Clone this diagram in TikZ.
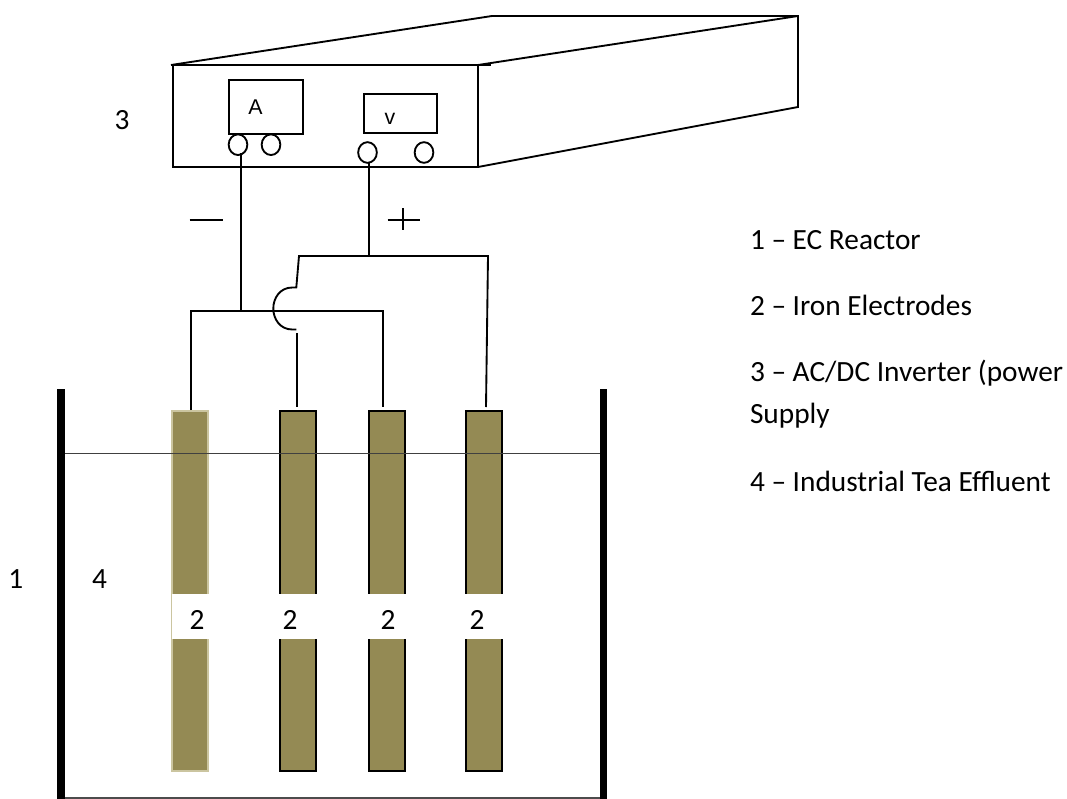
\documentclass[tikz,border=0pt]{standalone}
\usepackage{fontspec}
\usetikzlibrary{shapes.geometric}
\setmainfont{Carlito}
\newfontfamily\lblsans{Liberation Sans}
\definecolor{elec}{HTML}{948A54}
\definecolor{elecedge}{HTML}{CBC5A0}
\begin{document}
\begin{tikzpicture}[x=0.75pt,y=-0.75pt,
  every node/.style={inner sep=0pt,outer sep=0pt},
  ln/.style={line width=1.4pt,black},
  wire/.style={line width=1.4pt,black},
  electrode/.style={draw=black,line width=1.4pt,fill=elec,minimum width=27pt,minimum height=270pt,anchor=north west},
  lightelectrode/.style={electrode,draw=elecedge},
  patch/.style={fill=white,minimum width=29.6pt,minimum height=33.75pt,anchor=north west},
  txt/.style={font=\fontsize{22pt}{26pt}\selectfont,anchor=base west},
  meterbox/.style={draw=black,line width=1.4pt,anchor=north west},
  meter/.style={font=\lblsans\fontsize{16pt}{18pt}\selectfont,anchor=base},
  terminal/.style={draw=black,line width=1.4pt,ellipse,minimum width=14pt,minimum height=15.5pt},
  wall/.style={fill=black,draw=none}]
\useasboundingbox (0,0) rectangle (1067,799);
\fill[white] (0,0) rectangle (1067,799);
% power supply
\draw[ln] (173,65) rectangle (478,167);
\draw[ln] (171,65) -- (492,16) -- (798,16) -- (798,107) -- (478,167);
\draw[ln] (478,65) -- (798,16);
\draw[ln] (478,65) -- (491,65);
\node[meterbox,minimum width=55.5pt,minimum height=40.5pt] (ammeter) at (229,80) {};
\node[meterbox,minimum width=54.75pt,minimum height=29.25pt] (voltmeter) at (364,94) {};
\node[meter] (alabel) at (255.5,114) {A};
\node[meter] (vlabel) at (390,124) {v};
\node[terminal] (tA1) at (238,144.7) {};
\node[terminal] (tA2) at (271,144.7) {};
\node[terminal] (tV1) at (367.5,152.5) {};
\node[terminal] (tV2) at (424,152.5) {};
% electrodes
\node[lightelectrode] (e1) at (172,411) {};
\node[electrode] (e2) at (280,411) {};
\node[electrode] (e3) at (369,411) {};
\node[electrode] (e4) at (466,411) {};
% wiring coordinates
\coordinate (negtop) at (241,153);
\coordinate (negj) at (241,311);
\coordinate (negl) at (191,311);
\coordinate (negr) at (383,311);
\coordinate (e1top) at (191,410);
\coordinate (e3top) at (383,407);
\coordinate (postop) at (369,163);
\coordinate (posj) at (369,256);
\coordinate (posl) at (299,256);
\coordinate (posr) at (488,256);
\coordinate (e4top) at (486,407);
\coordinate (hopa) at (296.3,287.5);
\coordinate (hopb) at (296.3,329.5);
\coordinate (hopc) at (297,333);
\coordinate (e2top) at (297,407);
\draw[wire] (negtop) -- (negj);
\draw[wire] (e1top) -- (negl) -- (negr) -- (e3top);
\draw[wire] (postop) -- (posj);
\draw[wire] (e4top) -- (posr) -- (posl) -- (hopa) -- (292.3,287.5)
  .. controls (280,287.5) and (273.3,298) .. (273.3,308.5)
  .. controls (273.3,319) and (280,329.5) .. (292.3,329.5) -- (hopb);
\draw[wire] (hopc) -- (e2top);
% signs
\coordinate (mina) at (189.5,220); \coordinate (minb) at (223,220);
\draw[wire] (mina) -- (minb);
\coordinate (plusa) at (387.5,220); \coordinate (plusb) at (420,220);
\coordinate (plusc) at (403,208); \coordinate (plusd) at (403,229.5);
\draw[wire] (plusa) -- (plusb);
\draw[wire] (plusc) -- (plusd);
% tank
\fill[wall] (57,389) rectangle (65,799);
\fill[wall] (599.5,389) rectangle (607,799);
\coordinate (tbl) at (65,798); \coordinate (tbr) at (599.5,798);
\draw[line width=1pt,black!70] (tbl) -- (tbr);
\coordinate (wl) at (65,453); \coordinate (wr) at (599.5,453);
\draw[line width=0.7pt,black!75] (wl) -- (wr);
% white patches
\node[patch,minimum width=28.1pt] (p1) at (172,594) {};
\node[patch,minimum width=30pt] (p2) at (278,594) {};
\node[patch] (p3) at (367,594) {};
\node[patch] (p4) at (463.5,594) {};
\node[txt] (l1) at (189.7,629) {2};
\node[txt] (l2) at (282.5,629) {2};
\node[txt] (l3) at (380.5,629) {2};
\node[txt] (l4) at (469.5,629) {2};
% free labels
\node[txt] (n3) at (114.5,129) {3};
\node[txt] (n1) at (8.5,588) {1};
\node[txt] (n4) at (92,588) {4};
\node[txt] (k1) at (750,249) {1 – EC Reactor};
\node[txt] (k2) at (750,315) {2 – Iron Electrodes};
\node[txt] (k3) at (750,381) {3 – AC/DC Inverter (power};
\node[txt] (k3b) at (750,423) {Supply};
\node[txt] (k4) at (750,491) {4 – Industrial Tea Effluent};
\end{tikzpicture}
\end{document}
